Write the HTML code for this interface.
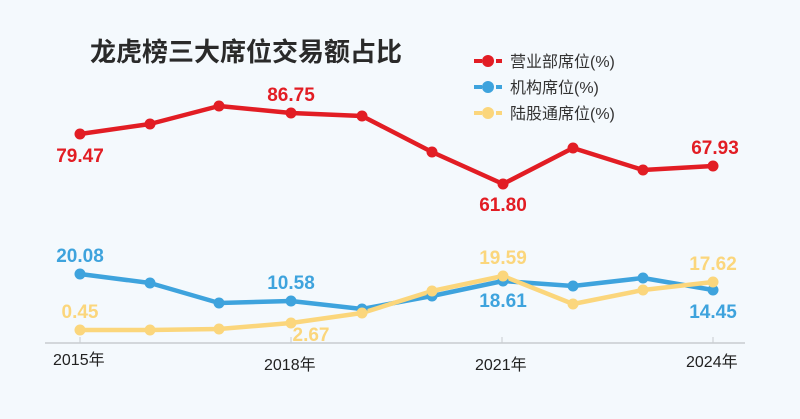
<!DOCTYPE html>
<html><head><meta charset="utf-8"><style>
body{margin:0;background:#f4f9fd;}
svg{display:block}
text{font-family:"Liberation Sans","Noto Sans CJK SC",sans-serif}
</style></head><body>
<svg width="800" height="419" viewBox="0 0 800 419">
<rect width="800" height="419" fill="#f4f9fd"/>
<text x="90" y="61" font-size="26" font-weight="bold" fill="#2a2a2a" font-family="'Noto Sans CJK SC',sans-serif">龙虎榜三大席位交易额占比</text>
<g font-size="16" fill="#333" font-family="'Noto Sans CJK SC',sans-serif">
<line x1="474" y1="61" x2="502" y2="61" stroke="#e21d24" stroke-width="4" stroke-dasharray="8 3"/><circle cx="488" cy="61" r="6" fill="#e21d24"/>
<text x="510" y="67">营业部席位(%)</text>
<line x1="474" y1="87" x2="502" y2="87" stroke="#3ea3dd" stroke-width="4" stroke-dasharray="8 3"/><circle cx="488" cy="87" r="6" fill="#3ea3dd"/>
<text x="510" y="93">机构席位(%)</text>
<line x1="474" y1="113" x2="502" y2="113" stroke="#fbd67c" stroke-width="4" stroke-dasharray="8 3"/><circle cx="488" cy="113" r="6" fill="#fbd67c"/>
<text x="510" y="119">陆股通席位(%)</text>
</g>
<line x1="45" y1="343" x2="745" y2="343" stroke="#c8ccd0" stroke-width="1.5"/>
<g stroke="#c8ccd0" stroke-width="1"><line x1="80" y1="337" x2="80" y2="343"/><line x1="291" y1="337" x2="291" y2="343"/><line x1="502" y1="337" x2="502" y2="343"/><line x1="713" y1="337" x2="713" y2="343"/></g>
<g font-size="16" fill="#222"><text x="53" y="365">2015年</text><text x="264" y="370">2018年</text><text x="475" y="370">2021年</text><text x="686" y="367">2024年</text></g>
<g fill="none" stroke-width="4.5" stroke-linejoin="round">
<polyline stroke="#e21d24" points="80,134 150,124 219,106 291,113 362,116 432,152 503,184 573,148 643,170 713,166"/>
<polyline stroke="#3ea3dd" points="80,274 150,283 219,303 291,301 362,309 432,296 503,281 573,286 643,278 713,290"/>
<polyline stroke="#fbd67c" points="80,330 150,330 219,329 291,323 362,313 432,291 503,276 573,304 643,290 713,282"/>
</g>
<g fill="#e21d24"><circle cx="80" cy="134" r="5.5"/><circle cx="150" cy="124" r="5.5"/><circle cx="219" cy="106" r="5.5"/><circle cx="291" cy="113" r="5.5"/><circle cx="362" cy="116" r="5.5"/><circle cx="432" cy="152" r="5.5"/><circle cx="503" cy="184" r="5.5"/><circle cx="573" cy="148" r="5.5"/><circle cx="643" cy="170" r="5.5"/><circle cx="713" cy="166" r="5.5"/></g>
<g fill="#3ea3dd"><circle cx="80" cy="274" r="5.5"/><circle cx="150" cy="283" r="5.5"/><circle cx="219" cy="303" r="5.5"/><circle cx="291" cy="301" r="5.5"/><circle cx="362" cy="309" r="5.5"/><circle cx="432" cy="296" r="5.5"/><circle cx="503" cy="281" r="5.5"/><circle cx="573" cy="286" r="5.5"/><circle cx="643" cy="278" r="5.5"/><circle cx="713" cy="290" r="5.5"/></g>
<g fill="#fbd67c"><circle cx="80" cy="330" r="5.5"/><circle cx="150" cy="330" r="5.5"/><circle cx="219" cy="329" r="5.5"/><circle cx="291" cy="323" r="5.5"/><circle cx="362" cy="313" r="5.5"/><circle cx="432" cy="291" r="5.5"/><circle cx="503" cy="276" r="5.5"/><circle cx="573" cy="304" r="5.5"/><circle cx="643" cy="290" r="5.5"/><circle cx="713" cy="282" r="5.5"/></g>
<g font-size="19" font-weight="bold" text-anchor="middle">
<text x="80" y="162" fill="#e21d24">79.47</text>
<text x="291" y="101" fill="#e21d24">86.75</text>
<text x="503" y="211" fill="#e21d24">61.80</text>
<text x="715" y="154" fill="#e21d24">67.93</text>
<text x="80" y="262" fill="#3ea3dd">20.08</text>
<text x="291" y="289" fill="#3ea3dd">10.58</text>
<text x="503" y="307" fill="#3ea3dd">18.61</text>
<text x="713" y="318" fill="#3ea3dd">14.45</text>
<text x="80" y="318" fill="#fbd67c">0.45</text>
<text x="311" y="341" fill="#fbd67c">2.67</text>
<text x="503" y="264" fill="#fbd67c">19.59</text>
<text x="713" y="270" fill="#fbd67c">17.62</text>
</g>
</svg>
</body></html>
